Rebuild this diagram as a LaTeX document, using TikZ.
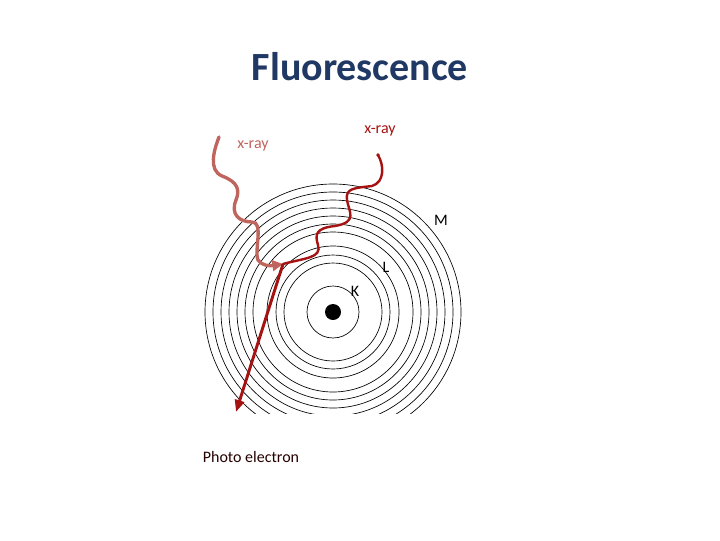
\documentclass[tikz,border=0pt]{standalone}
\usepackage{fontspec}
\setmainfont{Carlito}
\usetikzlibrary{arrows.meta}
\definecolor{navy}{HTML}{1F3864}
\definecolor{lightred}{HTML}{C0645E}
\definecolor{darkred}{HTML}{A51212}
\tikzset{orbit/.style={draw=black,line width=0.5pt},
lbl/.style={font=\fontsize{12}{14}\selectfont,inner sep=0pt},
ray/.style={line width=2pt,line cap=round,rounded corners=0pt}}
\begin{document}
\begin{tikzpicture}[x=0.75pt,y=-0.75pt]
\useasboundingbox (0,0) rectangle (720,540);
\fill[white] (0,0) rectangle (720,540);
\node[font=\fontsize{30}{34}\selectfont\bfseries,text=navy] (title) at (360,67) {Fluorescence};
\coordinate (c) at (333,312);
\begin{scope}
\clip (150,150) rectangle (520,413);
\foreach \r in {128,120,112,104,96,88,80,66,57,49,26}
  \draw[orbit] (c) circle[radius=\r];
\end{scope}
\fill[black] (c) circle[radius=8];
\coordinate (a0) at (219,137);
\coordinate (hit) at (283,264);
\draw[ray,lightred,line width=2.5pt,-{Triangle[length=8pt,width=8pt]}] (a0)
 .. controls (214,150) and (208,170) .. (222,176)
 .. controls (238,182) and (240,190) .. (236,200)
 .. controls (230,215) and (240,222) .. (252,222)
 .. controls (264,222) and (254,250) .. (258,260)
 .. controls (262,266) and (270,266) .. (hit);
\draw[ray,darkred,line width=1.8pt] (378,155)
 .. controls (384,165) and (385,182) .. (372,186)
 .. controls (355,188) and (345,188) .. (347,200)
 .. controls (349,212) and (358,222) .. (335,226)
 .. controls (315,228) and (315,235) .. (318,245)
 .. controls (322,258) and (305,258) .. (hit);
\fill[darkred] (378,155) circle[radius=1.8];
\draw[darkred,line width=2.2pt,-{Triangle[length=9pt,width=7pt]}] (hit) -- (236,412);
\node[lbl,text=lightred] (xl) at (253,146) {x-ray};
\node[lbl,text=darkred] (xr) at (380,131) {x-ray};
\node[lbl] (m) at (441,220) {M};
\node[lbl] (l) at (386,267) {L};
\node[lbl] (k) at (355,291) {K};
\node[lbl,text=black!85!red] (pe) at (251,457) {Photo electron};
\end{tikzpicture}
\end{document}
